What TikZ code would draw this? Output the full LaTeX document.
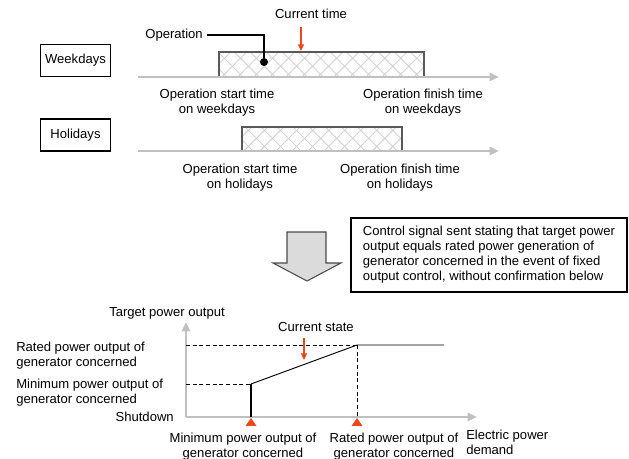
\documentclass[tikz,border=0pt]{standalone}
\usepackage{fontspec}
\setmainfont{Liberation Sans}
\usetikzlibrary{arrows.meta,patterns.meta}
\definecolor{mred}{RGB}{240,70,25}
\definecolor{axisgray}{RGB}{192,192,192}

\begin{document}
\begin{tikzpicture}[x=0.75pt, y=-0.75pt,
  every node/.style={font=\fontsize{9.8}{11.3}\selectfont, inner sep=0pt},
  daybox/.style={draw, line width=0.8pt, minimum width=53pt, minimum height=24pt},
  axis/.style={line width=2pt, draw=axisgray, -{Triangle[length=7pt,width=6pt]}},
  opbar/.style={draw=gray!70!black, line width=0.8pt, pattern={Hatch[distance=8.5pt,angle=45,line width=0.7pt]}, pattern color=gray!35},
  redarrow/.style={draw=mred, line width=0.8pt, -{Triangle[length=5pt,width=4.5pt]}},
  guide/.style={dashed, dash pattern=on 3pt off 2pt, line width=0.6pt}]
  \useasboundingbox (0,0) rectangle (629,459);

  % time charts
  \node[daybox] (wk) at (75.5,60.5) {Weekdays};
  \node[daybox] (hol) at (75.5,135) {Holidays};
  \draw[opbar] (219,77) |- (424,52) -- (424,77);
  \draw[opbar] (242,151) |- (402,127) -- (402,151);
  \coordinate (wk0) at (138,77); \coordinate (wk1) at (499,77);
  \coordinate (hol0) at (138,151); \coordinate (hol1) at (499,151);
  \draw[axis] (wk0) -- (wk1);
  \draw[axis] (hol0) -- (hol1);

  \node[circle, fill, minimum size=6pt] (dot) at (264,62) {};
  \node[anchor=east] (oplbl) at (203,35) {Operation};
  \draw[line width=0.8pt] ([xshift=3pt]oplbl.east) -| (dot);

  \node (ctime) at (311,14) {Current time};
  \coordinate (ct0) at (301,27); \coordinate (ct1) at (301,51);
  \draw[redarrow] (ct0) -- (ct1);

  \node[align=center] (wkstart) at (217,103) {Operation start time\\on weekdays};
  \node[align=center] (wkend) at (423,103) {Operation finish time\\on weekdays};
  \node[align=center] (holstart) at (240,177.5) {Operation start time\\on holidays};
  \node[align=center] (holend) at (400,177.5) {Operation finish time\\on holidays};

  % block arrow and note
  \draw[fill=gray!28, draw=gray!60!black, line width=0.8pt] (287,232) -- (326,232) -- (326,263) -- (341,263) -- (307,281) -- (273,263) -- (287,263) -- cycle;
  \node[draw, line width=0.8pt, minimum width=207pt, minimum height=55.5pt, align=left] (ctrl) at (489,255)
    {Control signal sent stating that target power\\output equals rated power generation of\\generator concerned in the event of fixed\\output control, without confirmation below};

  % power chart
  \coordinate (O) at (186,417);
  \coordinate (ytip) at (186,322); \coordinate (xtip) at (477,417);
  \draw[axis] (O) -- (ytip);
  \draw[axis] (O) -- (xtip);
  \node (tpo) at (167,313) {Target power output};
  \node[anchor=west, align=left] (ratedlbl) at (16,355.5) {Rated power output of\\generator concerned};
  \node[anchor=west, align=left] (minlbl) at (16,393) {Minimum power output of\\generator concerned};
  \node[anchor=east] (shut) at (174,417) {Shutdown};

  \coordinate (pmin) at (251,384); \coordinate (prated) at (357,345); \coordinate (pend) at (444,345);
  \draw[guide] (O |- pmin) -- (pmin);
  \draw[guide] (O |- prated) -- (prated);
  \draw[guide] (prated) -- (prated |- O);
  \draw[line width=0.7pt] (pmin) -- (prated) -- (pend);
  \draw[line width=1.6pt] (pmin) -- (pmin |- O);

  \fill[mred] (245.5,426) -- (256.5,426) -- (251,418) -- cycle;
  \fill[mred] (351.5,426) -- (362.5,426) -- (357,418) -- cycle;

  \node (cstate) at (316,327) {Current state};
  \coordinate (cs0) at (304,338); \coordinate (cs1) at (304,360);
  \draw[redarrow] (cs0) -- (cs1);

  \node[align=center] (minx) at (243,447) {Minimum power output of\\generator concerned};
  \node[align=center] (ratedx) at (394,447) {Rated power output of\\generator concerned};
  \node[anchor=west, align=left] (demand) at (466,442.5) {Electric power\\demand};
\end{tikzpicture}
\end{document}
